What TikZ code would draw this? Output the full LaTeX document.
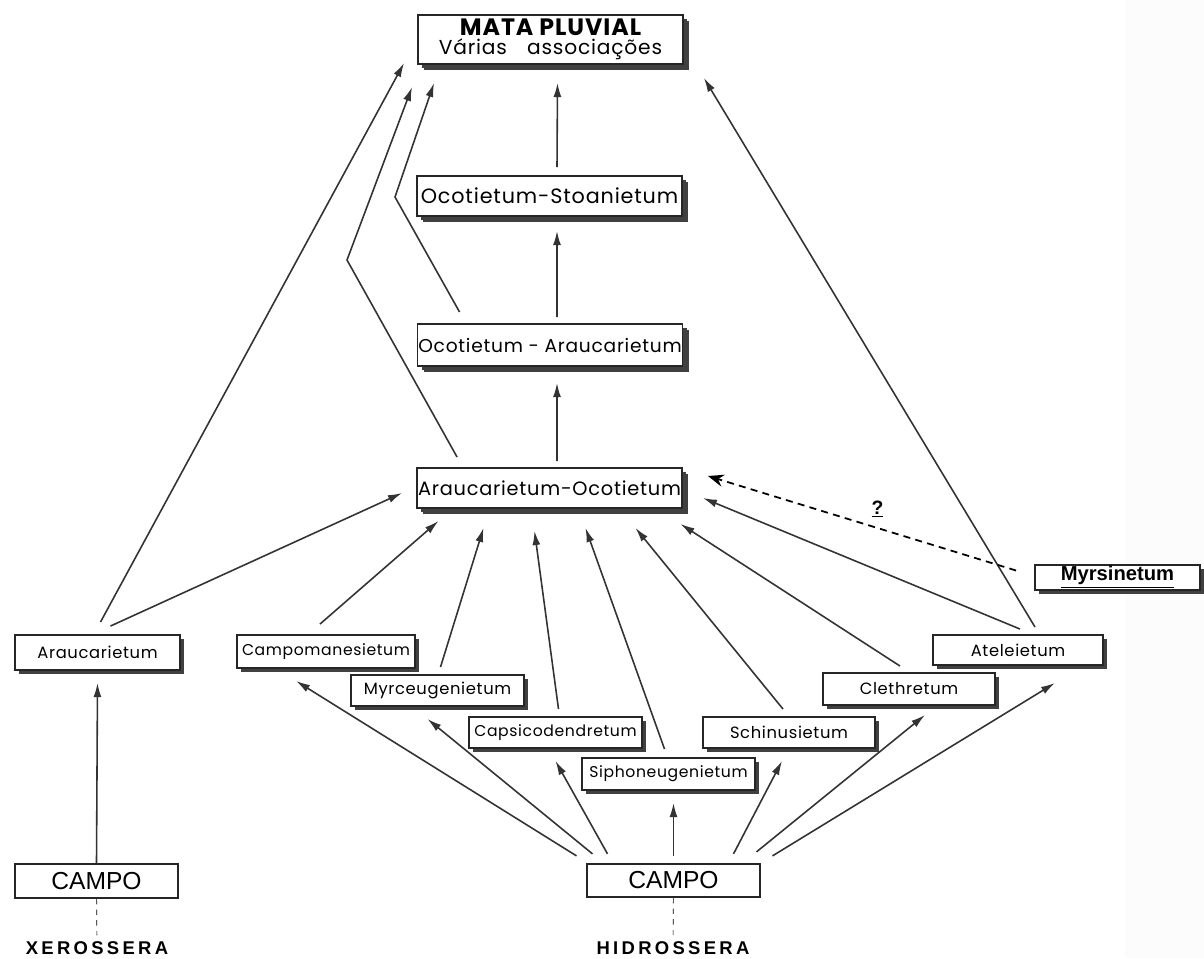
\documentclass[tikz,border=0pt]{standalone}
\usepackage{fontspec}
\setmainfont{Liberation Sans}
\newfontfamily\lettering[LetterSpace=4]{Poppins}
\newfontfamily\spaced[LetterSpace=18]{Liberation Sans}
\usetikzlibrary{arrows.meta,calc,shadows}
\tikzset{box/.style = {draw=black!85, line width=1.1pt, fill=white, inner sep=0pt,
    drop shadow={shadow xshift=2.5pt, shadow yshift=-2.5pt, opacity=1, fill=black!75}}}
\tikzset{mainbox/.style = {box, minimum width=5.3cm, font=\lettering\fontsize{11}{14}\selectfont,
    drop shadow={shadow xshift=3.5pt, shadow yshift=-3.5pt, opacity=1, fill=black!75}}}
\tikzset{subbox/.style = {box, font=\lettering\fontsize{9.3}{11}\selectfont}}
\tikzset{fieldbox/.style = {draw=black!85, line width=1.3pt, inner sep=0pt, font=\fontsize{14}{16}\selectfont}}
\tikzset{sere/.style = {font=\spaced\bfseries\fontsize{10.5}{12}\selectfont}}
\tikzset{link/.style = {-{Latex[length=8pt, width=4.5pt]}, line width=0.9pt, draw=black!80}}
\tikzset{guess/.style = {-{Stealth[length=9pt, width=7pt, inset=3pt]}, line width=1pt, dash pattern=on 4pt off 3pt}}

\begin{document}
\begin{tikzpicture}[x=0.02cm, y=-0.02cm]
	\useasboundingbox (0,0) rectangle (1204,958);
	\fill[black!1] (1125,0) rectangle (1204,958);

	% upper column
	\node[mainbox, minimum height=0.98cm, align=center, font=\lettering\fontsize{11.5}{12}\selectfont] (mata) at (550.5,39.5)
		{{\bfseries\fontsize{13.5}{13}\selectfont MATA PLUVIAL}\\[-1pt]Várias\quad associações};
	\node[mainbox, minimum height=0.8cm, font=\lettering\fontsize{11.8}{14}\selectfont] (ocst) at (549.5,196) {Ocotietum-Stoanietum};
	\node[mainbox, minimum height=0.84cm, font=\lettering\fontsize{10.6}{14}\selectfont] (ocar) at (550,345) {Ocotietum - Araucarietum};
	\node[mainbox, minimum height=0.8cm] (aroc) at (549.5,488) {Araucarietum-Ocotietum};

	% lower row
	\node[subbox, minimum width=3.3cm, minimum height=0.7cm] (arau) at (97.5,652.5) {Araucarietum};
	\node[subbox, minimum width=3.56cm, minimum height=0.66cm, font=\lettering\fontsize{8.9}{11}\selectfont] (camp) at (326,651.5) {Campomanesietum};
	\node[subbox, minimum width=3.46cm, minimum height=0.62cm] (myrc) at (437.5,690.5) {Myrceugenietum};
	\node[subbox, minimum width=3.46cm, minimum height=0.62cm, font=\lettering\fontsize{8.9}{11}\selectfont] (caps) at (555.5,732.5) {Capsicodendretum};
	\node[subbox, minimum width=3.46cm, minimum height=0.64cm, font=\lettering\fontsize{8.9}{11}\selectfont] (siph) at (668.5,774) {Siphoneugenietum};
	\node[subbox, minimum width=3.44cm, minimum height=0.62cm] (schi) at (789,732.5) {Schinusietum};
	\node[subbox, minimum width=3.44cm, minimum height=0.64cm] (clet) at (909,689) {Clethretum};
	\node[subbox, minimum width=3.4cm, minimum height=0.6cm] (atel) at (1018,650) {Ateleietum};
	\node[subbox, minimum width=3.3cm, minimum height=0.5cm,
		font=\bfseries\fontsize{11.5}{13}\selectfont] (myrs) at (1117.5,577.5) {\underline{Myrsinetum}};

	% fields
	\node[fieldbox, minimum width=3.26cm, minimum height=0.68cm] (campl) at (96.5,881) {CAMPO};
	\node[fieldbox, minimum width=3.46cm, minimum height=0.66cm] (campr) at (673.5,880.5) {CAMPO};
	\node[sere] (xero) at (97,948) {XEROSSERA};
	\node[sere] (hidro) at (673,948) {HIDROSSERA};
	\draw[dashed, thin] (campl) -- (xero);
	\draw[dashed, thin] (campr) -- (hidro);

	\coordinate (kneeA) at (347,260);
	\coordinate (kneeB) at (395,197);

	% into mata pluvial
	\draw[link] ($(arau.north)+(3,-12)$) -- ($(mata.south west)+(-13,-2)$);
	\draw[link] ($(aroc.north west)+(41,-10)$) -- (kneeA) -- ($(mata.south west)+(-5,22)$);
	\draw[link] ($(ocar.north west)+(43,-11)$) -- (kneeB) -- ($(mata.south west)+(17,18)$);
	\draw[link] ($(ocst.north)+(7.5,-8)$) -- ($(mata.south)+(7,18)$);
	\draw[link] ($(atel.north)+(17,-7)$) -- ($(mata.south east)+(20,13)$);
	\draw[link] ($(ocar.north)+(7,-6)$) -- ($(ocst.south)+(7.5,14)$);
	\draw[link] ($(aroc.north)+(7.5,-6)$) -- ($(ocar.south)+(7,16)$);

	% into araucarietum-ocotietum
	\draw[link] ($(arau.north)+(13,-8)$) -- ($(aroc.west)+(-14,5)$);
	\draw[link] ($(camp.north)+(-6,-10)$) -- ($(aroc.south)+(-111,12)$);
	\draw[link] ($(myrc.north)+(3,-7)$) -- ($(aroc.south)+(-66,19)$);
	\draw[link] ($(caps.north)+(3,-7)$) -- ($(aroc.south)+(-15,22)$);
	\draw[link] ($(siph.north)+(-4,-8)$) -- ($(aroc.south)+(36,19)$);
	\draw[link] ($(schi.north)+(-6,-7)$) -- ($(aroc.south)+(86,19)$);
	\draw[link] ($(clet.north)+(-9,-6)$) -- ($(aroc.south)+(131,15)$);
	\draw[link] ($(atel.north)+(2,-5)$) -- ($(aroc.east)+(20,10)$);
	\draw[guess] ($(myrs.west)+(-18,-7)$) -- node[pos=0.45, above=2pt, font=\bfseries\fontsize{11}{13}\selectfont] {\underline{?}} ($(aroc.east)+(25,-12)$);

	% out of the fields
	\draw[link] (campl.north) -- ($(arau.south)+(0,12)$);
	\draw[link] ($(campr.north)+(-97,-7)$) -- ($(camp.south)+(-30,12)$);
	\draw[link] ($(campr.north)+(-81,-9)$) -- ($(myrc.south)+(-10,12)$);
	\draw[link] ($(campr.north)+(-66,-9)$) -- ($(caps.south)+(0,12)$);
	\draw[link] ($(campr.north)+(0,-7)$) -- ($(siph.south)+(5,12)$);
	\draw[link] ($(campr.north)+(60,-9)$) -- ($(schi.south)+(-7,12)$);
	\draw[link] ($(campr.north)+(83,-11)$) -- ($(clet.south)+(16,9)$);
	\draw[link] ($(campr.north)+(99,-7)$) -- ($(atel.south)+(37,17)$);
\end{tikzpicture}
\end{document}
